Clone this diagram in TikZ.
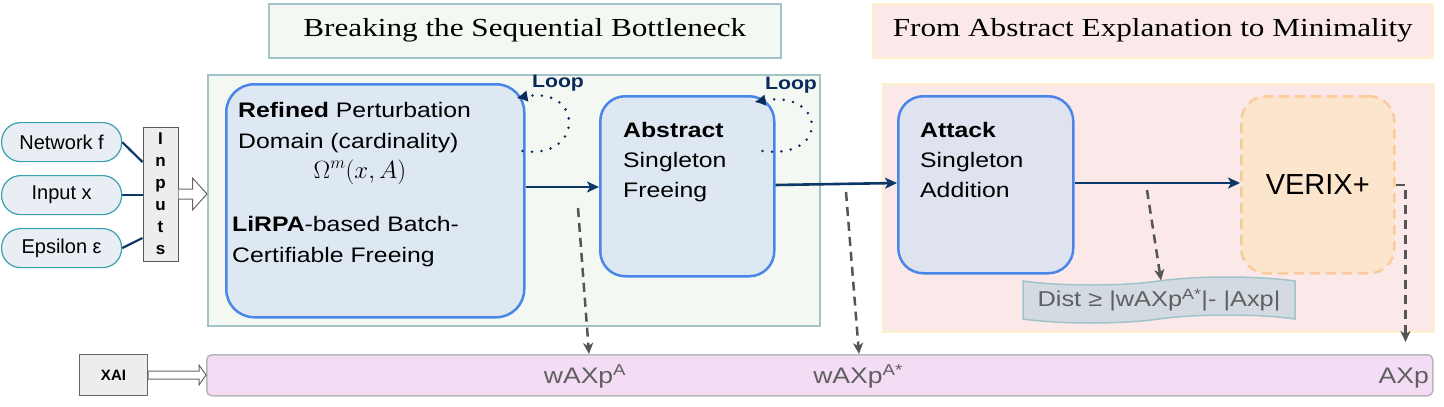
\documentclass[tikz,border=0pt]{standalone}
\usepackage{fontspec}
\setmainfont{Liberation Sans}[FakeStretch=1.18]
\newfontfamily\plainsans{Liberation Sans}
\newfontfamily\titlefont{Liberation Serif}[FakeStretch=1.2]
\usetikzlibrary{arrows.meta,shapes.symbols,calc}
\definecolor{greenbg}{HTML}{F3F8F2}
\definecolor{greenbd}{HTML}{A2C4C9}
\definecolor{pinkbg}{HTML}{FBE9E9}
\definecolor{pinkbd}{HTML}{FFF0CC}
\definecolor{boxblue}{HTML}{4A86E8}
\definecolor{boxfill}{HTML}{DEE8F2}
\definecolor{attfill}{HTML}{DFE3F0}
\definecolor{verfill}{HTML}{FCE5CD}
\definecolor{verbd}{HTML}{F9CB9C}
\definecolor{distfill}{HTML}{D3DAE2}
\definecolor{barpink}{HTML}{F4DDF4}
\definecolor{bargray}{HTML}{B7B7B7}
\definecolor{pillfill}{HTML}{E8EEF4}
\definecolor{pillbd}{HTML}{3BA0B0}
\definecolor{navy}{HTML}{0B3866}
\definecolor{loopnavy}{HTML}{0B2A5C}
\definecolor{dgray}{HTML}{555555}
\definecolor{lblgray}{HTML}{5F5F5F}
\begin{document}
\begin{tikzpicture}[x=1pt,y=-1pt,
  region/.style={draw, line width=1.5pt, anchor=north west, inner sep=0pt},
  proc/.style={draw=boxblue, line width=2.5pt, rounded corners=28pt, anchor=north west, inner sep=0pt},
  txt/.style={anchor=base west, inner sep=0pt, font=\fontsize{21}{25}\selectfont},
  titletxt/.style={font=\titlefont\fontsize{26}{30}\selectfont},
  looptxt/.style={text=loopnavy, inner sep=0pt, font=\bfseries\fontsize{18}{22}\selectfont},
  pill/.style={draw=pillbd, fill=pillfill, line width=1.2pt, rounded corners=19pt, minimum width=120pt, minimum height=39pt, inner sep=0pt, anchor=north west, font=\plainsans\fontsize{20}{24}\selectfont},
  pilline/.style={draw=navy, line width=2.2pt},
  navyarr/.style={draw=navy, line width=2.6pt, -{Stealth[length=12pt,width=11pt,inset=3pt]}},
  grayarr/.style={draw=dgray, line width=2.5pt, dash pattern=on 9pt off 6pt, -{Stealth[length=11pt,width=10pt,inset=3pt]}},
  loopline/.style={draw=loopnavy, line width=2.8pt, line cap=round, dash pattern=on 0pt off 9.5pt, -{Latex[length=11pt,width=12pt]}},
  hollow/.style={draw=black!60, fill=white, line width=1pt},
  barlbl/.style={text=lblgray, inner sep=0pt, anchor=base, font=\fontsize{22.5}{26}\selectfont}
]
\useasboundingbox (0,0) rectangle (1444,407);

% title boxes
\node[region, draw=greenbd, fill=greenbg, minimum width=512pt, minimum height=54pt] (t1box) at (268,3) {};
\node[titletxt] (t1) at (t1box.center) {Breaking the Sequential Bottleneck};
\node[region, draw=pinkbd, fill=pinkbg, minimum width=560pt, minimum height=54pt] (t2box) at (872,3) {};
\node[titletxt] (t2) at (t2box.center) {From Abstract Explanation to Minimality};

% regions
\node[region, draw=greenbd, fill=greenbg, minimum width=612pt, minimum height=251pt] (green) at (207,74) {};
\node[region, draw=pinkbd, fill=pinkbg, minimum width=551pt, minimum height=248pt] (pink) at (882,83) {};

% main boxes
\node[proc, fill=boxfill, minimum width=298pt, minimum height=233pt] (ref) at (225,83) {};
\node[txt] (refl1) at (238,117) {\textbf{Refined} Perturbation};
\node[txt] (refl2) at (238,148) {Domain (cardinality)};
\node[anchor=base, inner sep=0pt, font=\fontsize{26}{30}\selectfont] (refl3) at (360,178) {$\Omega^m(x,A)$};
\node[txt] (refl4) at (232,231) {\textbf{LiRPA}-based Batch-};
\node[txt] (refl5) at (232,262) {Certifiable Freeing};

\node[proc, fill=boxfill, rounded corners=25pt, minimum width=174pt, minimum height=180pt] (abs) at (599,95) {};
\node[txt] (absl1) at (623,137) {\textbf{Abstract}};
\node[txt] (absl2) at (623,167) {Singleton};
\node[txt] (absl3) at (623,197) {Freeing};

\node[proc, fill=attfill, rounded corners=25pt, minimum width=175pt, minimum height=177pt] (att) at (897,95) {};
\node[txt] (attl1) at (920,137) {\textbf{Attack}};
\node[txt] (attl2) at (920,167) {Singleton};
\node[txt] (attl3) at (920,197) {Addition};

\node[region, draw=verbd, fill=verfill, line width=2.5pt, dash pattern=on 10pt off 6pt, rounded corners=25pt, minimum width=153pt, minimum height=177pt] (ver) at (1240,95) {};
\node[inner sep=0pt, font=\plainsans\fontsize{29}{34}\selectfont] (verl) at (ver.center) {VERIX+};

\node[tape, draw=greenbd, fill=distfill, line width=1.5pt, minimum width=272pt, minimum height=46pt, tape bend height=8pt, inner sep=0pt, text=lblgray, font=\fontsize{21.5}{25}\selectfont] (dist) at (1159,300) {Dist ≥ |wAXp\textsuperscript{A*}|- |Axp|};

% bottom bar
\node[region, draw=bargray, fill=barpink, rounded corners=5pt, minimum width=1226pt, minimum height=41pt] (bar) at (206,354) {};
\node[barlbl] (wa) at (585,383) {wAXp\textsuperscript{A}};
\node[barlbl] (was) at (858,383) {wAXp\textsuperscript{A*}};
\node[barlbl, anchor=base east] (axp) at (1429,383) {AXp};

% XAI
\node[draw=black!60, fill=black!7, line width=1pt, anchor=north west, minimum width=68pt, minimum height=41pt, inner sep=0pt, font=\plainsans\bfseries\fontsize{15}{18}\selectfont] (xai) at (79,354) {XAI};
\draw[hollow] ($(xai.east)+(0,-4)$) -- ++(51,0) -- ++(0,-6) -- (bar.west |- xai.east) -- ($(xai.east)+(51,10)$) -- ++(0,-6) -- ($(xai.east)+(0,4)$) -- cycle;

% inputs
\node[pill] (net) at (1,122) {Network f};
\node[pill] (inx) at (1,175) {Input x};
\node[pill] (eps) at (1,228) {Epsilon ε};
\node[draw=black!65, fill=black!7, line width=1pt, minimum width=35pt, minimum height=134pt, inner sep=0pt, align=center, font=\plainsans\bfseries\fontsize{17}{22}\selectfont] (inputs) at (160.5,194) {I\\n\\p\\u\\t\\s};
\draw[pilline] (net.east) -- (inputs.west |- 0,162);
\draw[pilline] (inx.east) -- (inputs.west |- inx.east);
\draw[pilline] (eps.east) -- (inputs.west |- 0,238);
\draw[hollow] ($(inputs.east)+(0,-5)$) -- ++(14,0) -- ++(0,-11) -- (green.west |- inputs.east) -- ($(inputs.east)+(14,16)$) -- ++(0,-11) -- ($(inputs.east)+(0,5)$);

% flow arrows
\draw[navyarr] (ref.east |- 0,187) -- (abs.west |- 0,187);
\draw[navyarr] (abs.east |- 0,185) -- (att.west |- 0,183);
\draw[navyarr] (att.east |- 0,183) -- (ver.west |- 0,183);

% loops
\node[looptxt] (loop1) at (558,83) {Loop};
\node[looptxt] (loop2) at (791,85) {Loop};
\draw[loopline] ($(ref.north east)+(-3,68)$) .. controls (584,160) and (584,86) .. ($(ref.north east)+(-9,15)$);
\draw[loopline] ($(abs.north east)+(-13,56)$) .. controls (830,160) and (826,90) .. ($(abs.north east)+(-21,7)$);

% dashed outputs
\coordinate (d1) at (578,208);
\coordinate (d2) at (846,192);
\coordinate (d3) at (1147,190);
\draw[grayarr] (d1) -- (589,0 |- bar.north);
\draw[grayarr] (d2) -- (859,0 |- bar.north);
\draw[grayarr] (d3) -- (1161,0 |- dist.north);
\draw[grayarr] (ver.east) -| ($(bar.north east)+(-28,-12)$);
\end{tikzpicture}
\end{document}
